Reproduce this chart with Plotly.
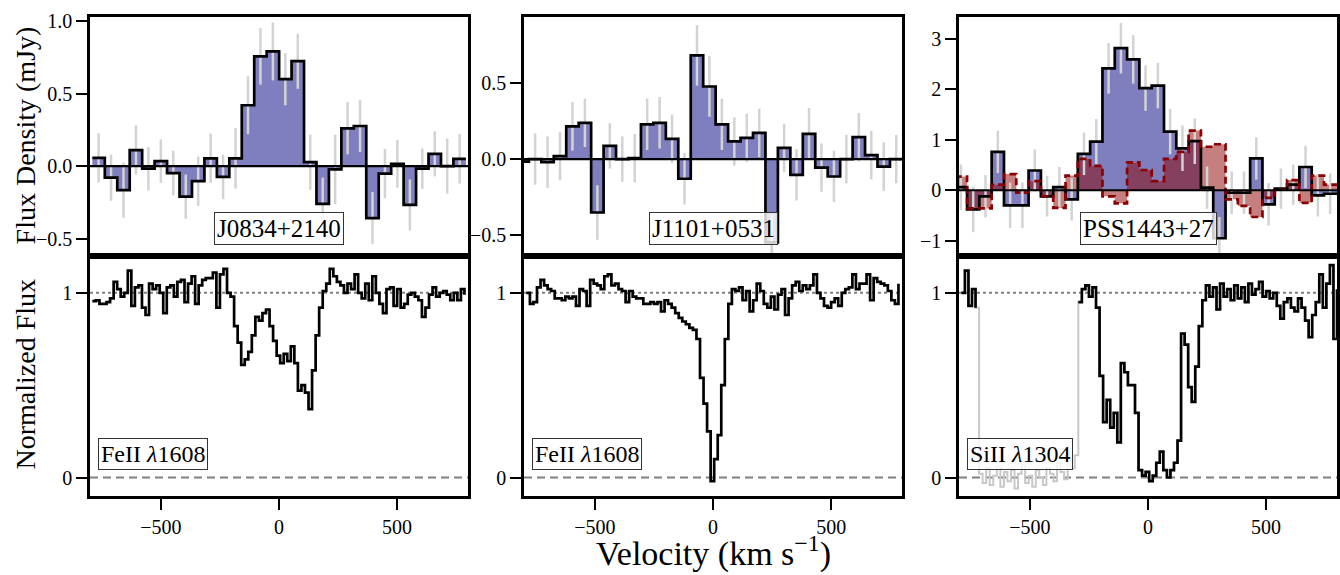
import numpy as np
import plotly.graph_objects as go

# ---------------- data ----------------
# Top panels: binned flux density (mJy), bins of constant width (km/s)
names = ["J0834+2140", "J1101+0531", "PSS1443+27"]
lines = ["FeII <i>λ</i>1608", "FeII <i>λ</i>1608", "SiII <i>λ</i>1304"]

bin_start = [-790.0, -832.0, -818.0]
bin_width = [52.7, 52.7, 52.1]

flux_hist1 = [0.057, -0.08, -0.166, 0.111, -0.018, 0.034, -0.048, -0.211, -0.104, 0.054,
              -0.075, 0.054, 0.42, 0.758, 0.792, 0.60, 0.724, 0.027, -0.26, -0.023,
              0.261, 0.277, -0.359, -0.052, 0.016, -0.268, -0.018, 0.084, 0.0, 0.05]
err_hist1 = [0.17, 0.16, 0.19, 0.17, 0.15, 0.15, 0.155, 0.153, 0.17, 0.17,
             0.153, 0.21, 0.2, 0.196, 0.2, 0.18, 0.19, 0.19, 0.18, 0.24,
             0.18, 0.18, 0.18, 0.17, 0.165, 0.176, 0.14, 0.155, 0.19, 0.17]

flux_hist2 = [-0.017, 0.0, -0.02, 0.02, 0.216, 0.24, -0.353, 0.087, 0.0, 0.006,
              0.23, 0.24, 0.134, -0.13, 0.686, 0.48, 0.23, 0.117, 0.14, 0.173,
              -0.55, 0.074, -0.104, 0.167, -0.056, -0.115, 0.0, 0.145, 0.026, -0.05, 0.0]
err_hist2 = [0.17, 0.17, 0.17, 0.16, 0.16, 0.16, 0.18, 0.15, 0.15, 0.16,
             0.17, 0.17, 0.16, 0.17, 0.2, 0.2, 0.17, 0.16, 0.16, 0.16,
             0.18, 0.16, 0.17, 0.17, 0.16, 0.17, 0.16, 0.16, 0.16, 0.16, 0.16]

flux_hist3 = [0.06, -0.38, -0.12, 0.76, -0.3, -0.3, 0.39, -0.12, 0.06, -0.18,
              0.72, 0.96, 2.41, 2.81, 2.59, 2.02, 2.07, 1.16, 0.83, 0.97,
              0.05, -0.95, -0.05, -0.05, 0.63, -0.28, 0.03, 0.11, 0.46, -0.1, -0.07, -0.07]
err_hist3 = [0.45, 0.45, 0.42, 0.42, 0.45, 0.45, 0.42, 0.4, 0.4, 0.42,
             0.42, 0.45, 0.5, 0.5, 0.48, 0.45, 0.45, 0.45, 0.45, 0.45,
             0.42, 0.42, 0.42, 0.42, 0.42, 0.42, 0.4, 0.4, 0.42, 0.42, 0.4, 0.4]
# second (red, dashed) line in the PSS1443+27 panel
flux_hist3b = [0.27, -0.36, -0.36, 0.11, 0.32, -0.05, 0.18, -0.12, -0.35, 0.29,
               0.62, 0.48, -0.12, -0.26, 0.55, 0.4, 0.18, 0.62, 0.76, 1.18,
               0.86, 0.91, -0.18, -0.31, -0.53, -0.15, 0.01, 0.2, -0.25, 0.29, 0.11, 0.11]

# Bottom panels: normalized absorption spectra on a 15 km/s grid
spec_start = -790.0
spec_step = 15.0

norm_flux1 = [0.955, 0.96, 0.94, 0.94, 0.95, 0.97, 1.06, 1.02, 0.98, 1.0,
              1.12, 0.93, 1.03, 1.04, 0.92, 0.88, 1.05, 1.02, 1.04, 1.0,
              0.89, 1.03, 1.04, 0.98, 1.06, 1.07, 0.95, 1.05, 1.09, 0.94,
              1.04, 1.07, 1.08, 1.08, 1.11, 0.92, 1.1, 1.13, 1.0, 0.98,
              0.82, 0.73, 0.61, 0.64, 0.68, 0.77, 0.87, 0.85, 0.89, 0.91,
              0.82, 0.74, 0.66, 0.62, 0.67, 0.63, 0.71, 0.62, 0.47, 0.5,
              0.46, 0.37, 0.58, 0.77, 0.92, 1.01, 1.05, 1.13, 1.09, 1.06,
              1.04, 1.0, 1.05, 1.02, 1.1, 1.0, 0.97, 1.05, 0.96, 1.09,
              1.0, 0.94, 0.89, 1.02, 1.03, 0.93, 1.02, 0.92, 0.94, 0.99,
              1.0, 0.98, 0.96, 0.87, 0.92, 0.99, 1.03, 0.98, 1.0, 1.01,
              0.99, 0.96, 1.0, 0.96, 1.02, 0.99]

norm_flux2 = [1.0, 0.94, 0.95, 1.03, 1.07, 1.04, 1.02, 1.01, 0.97, 0.97,
              0.96, 0.98, 0.97, 0.98, 0.93, 1.02, 1.01, 0.93, 1.07, 1.05,
              1.04, 1.02, 1.09, 1.1, 1.04, 1.05, 1.02, 1.01, 0.95, 1.01,
              0.98, 0.97, 0.97, 0.94, 0.94, 0.95, 0.94, 0.95, 0.9, 0.96,
              0.94, 0.92, 0.89, 0.865, 0.845, 0.83, 0.81, 0.80, 0.75, 0.54,
              0.40, 0.25, -0.02, 0.1, 0.23, 0.5, 0.75, 0.94, 1.02, 1.01,
              1.03, 0.96, 1.01, 0.9, 0.96, 1.05, 1.01, 0.94, 0.92, 0.98,
              0.91, 0.99, 1.02, 0.88, 0.97, 1.04, 1.06, 1.01, 1.04, 1.02,
              1.04, 1.1, 1.0, 0.97, 0.93, 0.92, 0.95, 0.97, 0.93, 1.0,
              1.02, 1.03, 1.1, 1.02, 1.05, 1.05, 1.1, 0.96, 1.08, 1.06,
              1.05, 1.04, 1.01, 0.96, 0.94, 1.05]

norm_flux3 = [1.0, 1.12, 0.93, 1.02, 0.92,
              0.02, -0.03, 0.05, -0.04, 0.01, 0.06, -0.05, 0.03, -0.02, 0.04,
              -0.06, 0.02, 0.07, -0.03, 0.01, -0.05, 0.04, 0.0, -0.04, 0.05,
              0.02, -0.02, 0.08, 0.03, -0.01, 0.1, 0.05, 0.12,
              0.95, 1.02, 1.04, 0.98, 1.03, 0.92, 0.55, 0.3, 0.42, 0.27,
              0.35, 0.19, 0.62, 0.57, 0.5, 0.5, 0.35, 0.04, 0.01, 0.03,
              -0.02, 0.01, 0.08, 0.14, 0.04, 0.0, 0.04, 0.08, 0.2, 0.78,
              0.72, 0.49, 0.41, 0.6, 0.82, 0.96, 1.04, 0.98, 1.03, 0.91,
              1.05, 0.98, 1.02, 0.96, 1.04, 0.97, 1.03, 0.95, 1.05, 0.99,
              1.02, 1.06, 0.98, 1.01, 0.97, 1.0, 0.93, 0.86, 0.95, 0.97,
              0.92, 0.9, 0.97, 0.92, 0.85, 0.76, 0.88, 0.95, 1.1, 0.92,
              1.05, 1.15, 0.75, 1.02]
# blended / masked velocity interval in the SiII panel (drawn in grey)
mask3 = (-720.0, -305.0)

top_yticks = [[-0.5, 0.0, 0.5, 1.0], [-0.5, 0.0, 0.5], [-1, 0, 1, 2, 3]]
top_yticktext = [["−0.5", "0.0", "0.5", "1.0"], ["−0.5", "0.0", "0.5"], ["−1", "0", "1", "2", "3"]]
top_yrange = [[-0.62, 1.03], [-0.64, 0.94], [-1.3, 3.43]]
bot_yrange = [-0.1, 1.2]
x_ticks = [-500, 0, 500]
x_range = [-800, 800]

# ---------------- style ----------------
FONT = "Liberation Serif"
BLUE_FILL = "rgba(0,0,128,0.5)"
RED_FILL = "rgba(139,0,0,0.5)"
RED_LINE = "#8B0000"
ERR_COL = "#D3D3D3"
W, H = 1340, 575
xdom = [[90 / W, 468 / W], [524 / W, 902 / W], [959 / W, 1337 / W]]
ydom_top = [1 - 252 / H, 1 - 10 / H]
ydom_bot = [1 - 495 / H, 1 - 252 / H]


def sfx(i):
    return "" if i == 1 else str(i)


fig = go.Figure()


def step_xy(start, width, vals):
    edges = start + width * np.arange(len(vals) + 1)
    return edges, list(vals) + [vals[-1]], edges[:-1] + width / 2


hists = [(flux_hist1, err_hist1), (flux_hist2, err_hist2), (flux_hist3, err_hist3)]
for k in range(3):
    xa, ya = "x" + sfx(k + 1), "y" + sfx(k + 1)
    vals, errs = hists[k]
    ex, ey, cx = step_xy(bin_start[k], bin_width[k], vals)
    fig.add_trace(go.Scatter(x=ex, y=ey, mode="lines", line=dict(shape="hv", width=0),
                             fill="tozeroy", fillcolor=BLUE_FILL, xaxis=xa, yaxis=ya,
                             hoverinfo="skip", showlegend=False))
    if k == 2:
        rx, ry, _ = step_xy(bin_start[k], bin_width[k], flux_hist3b)
        fig.add_trace(go.Scatter(x=rx, y=ry, mode="lines", line=dict(shape="hv", width=0),
                                 fill="tozeroy", fillcolor=RED_FILL, xaxis=xa, yaxis=ya,
                                 hoverinfo="skip", showlegend=False))
    fig.add_trace(go.Scatter(x=cx, y=vals, mode="markers",
                             marker=dict(size=1, color="rgba(0,0,0,0)"),
                             error_y=dict(type="data", array=errs, color=ERR_COL,
                                          thickness=2.5, width=0),
                             xaxis=xa, yaxis=ya, hoverinfo="skip", showlegend=False))
    fig.add_trace(go.Scatter(x=ex, y=ey, mode="lines",
                             line=dict(shape="hv", width=2.7, color="black"),
                             xaxis=xa, yaxis=ya, hoverinfo="skip", showlegend=False))
    if k == 2:
        fig.add_trace(go.Scatter(x=rx, y=ry, mode="lines",
                                 line=dict(shape="hv", width=2.7, color=RED_LINE, dash="7px,4px"),
                                 xaxis=xa, yaxis=ya, hoverinfo="skip", showlegend=False))
    fig.add_shape(type="line", xref=f"{xa} domain", yref=ya, x0=0, x1=1, y0=0, y1=0,
                  line=dict(color="black", width=2.2))

specs = [norm_flux1, norm_flux2, norm_flux3]
for k in range(3):
    xa, ya = "x" + sfx(k + 4), "y" + sfx(k + 4)
    f = np.array(specs[k], dtype=float)
    v = spec_start + spec_step * np.arange(len(f))
    fig.add_shape(type="line", xref=f"{xa} domain", yref=ya, x0=0, x1=1, y0=1, y1=1,
                  line=dict(color="gray", width=2, dash="dot"), layer="below")
    fig.add_shape(type="line", xref=f"{xa} domain", yref=ya, x0=0, x1=1, y0=0, y1=0,
                  line=dict(color="gray", width=2, dash="8px,5px"), layer="below")
    if k == 2:
        fig.add_trace(go.Scatter(x=v, y=f, mode="lines",
                                 line=dict(shape="hv", width=2, color="#C8C8C8"),
                                 xaxis=xa, yaxis=ya, hoverinfo="skip", showlegend=False))
        inmask = (v > mask3[0]) & (v < mask3[1])
        fb = np.where(inmask, np.nan, f)
    else:
        fb = f
    fig.add_trace(go.Scatter(x=v, y=fb, mode="lines", connectgaps=False,
                             line=dict(shape="hv", width=2.7, color="black"),
                             xaxis=xa, yaxis=ya, hoverinfo="skip", showlegend=False))

axis_common = dict(showline=True, linecolor="black", linewidth=2.6, mirror=True,
                   showgrid=False, zeroline=False, ticks="outside", ticklen=11,
                   tickwidth=2.4, tickcolor="black",
                   tickfont=dict(family=FONT, size=20, color="black"))

layout = {}
for k in range(3):
    t, b = sfx(k + 1), sfx(k + 4)
    layout["xaxis" + t] = dict(axis_common, domain=xdom[k], anchor="y" + t,
                               range=x_range, showticklabels=False, ticks="")
    layout["yaxis" + t] = dict(axis_common, domain=ydom_top, anchor="x" + t,
                               range=top_yrange[k], tickvals=top_yticks[k],
                               ticktext=top_yticktext[k])
    layout["xaxis" + b] = dict(axis_common, domain=xdom[k], anchor="y" + b,
                               range=x_range, tickvals=x_ticks,
                               ticktext=["−500", "0", "500"])
    layout["yaxis" + b] = dict(axis_common, domain=ydom_bot, anchor="x" + b,
                               range=bot_yrange, tickvals=[0, 1], ticktext=["0", "1"])
fig.update_layout(**layout)

annots = []
for k in range(3):
    t, b = sfx(k + 1), sfx(k + 4)
    annots.append(dict(text=names[k], xref=f"x{t} domain", yref=f"y{t} domain",
                       x=0.5, y=0.115, xanchor="center", yanchor="middle", showarrow=False,
                       font=dict(family=FONT, size=25, color="black"),
                       bgcolor="rgba(255,255,255,0.8)", bordercolor="#333", borderwidth=1,
                       borderpad=2))
    annots.append(dict(text=lines[k], xref=f"x{b} domain", yref=f"y{b} domain",
                       x=0.02, y=0.173, xanchor="left", yanchor="middle", showarrow=False,
                       font=dict(family=FONT, size=24, color="black"),
                       bgcolor="rgba(255,255,255,0.8)", bordercolor="#333", borderwidth=1,
                       borderpad=2))
annots.append(dict(text="Flux Density (mJy)", xref="paper", yref="paper",
                   x=25 / W, y=1 - 130 / H, textangle=-90, showarrow=False,
                   xanchor="center", yanchor="middle",
                   font=dict(family=FONT, size=28, color="black")))
annots.append(dict(text="Normalized Flux", xref="paper", yref="paper",
                   x=25 / W, y=1 - 372 / H, textangle=-90, showarrow=False,
                   xanchor="center", yanchor="middle",
                   font=dict(family=FONT, size=28, color="black")))
annots.append(dict(text="Velocity (km s<sup>−1</sup>)", xref="paper", yref="paper",
                   x=713 / W, y=0.0, showarrow=False,
                   xanchor="center", yanchor="bottom",
                   font=dict(family=FONT, size=34, color="black")))

fig.update_layout(width=W, height=H, margin=dict(l=0, r=0, t=0, b=0),
                  paper_bgcolor="white", plot_bgcolor="white",
                  annotations=annots, showlegend=False)

fig.write_html("out.html", config={"displayModeBar": False},
               post_script="document.body.style.margin='0px';document.body.style.overflow='hidden';")
